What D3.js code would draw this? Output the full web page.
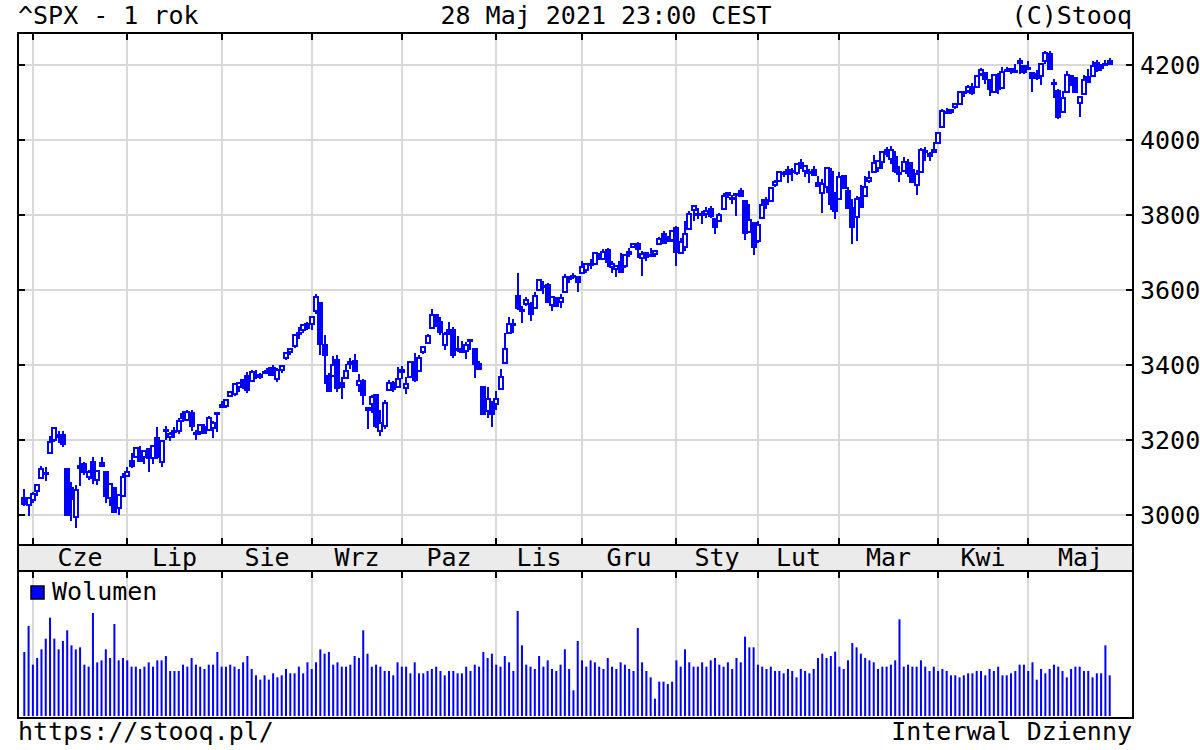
<!DOCTYPE html>
<html>
<head>
<meta charset="utf-8" />
<script src="https://cdn.jsdelivr.net/npm/d3@7"></script>
<style>
  body { margin: 0; background: #fff; }
  svg { display: block; }
  text { font-family: "DejaVu Sans Mono", monospace; font-size: 25px; fill: #000; }
</style>
</head>
<body>
<svg width="1200" height="750"></svg>
<script>
// daily candles, 28 May 2020 .. 28 May 2021 (254 sessions)
const opens = [
  3046.6,3025.2,3038.8,3064.8,3098.9,3111.6,3163.8,3199.9,3213.3,3213.4,
  3123.5,3071.0,2993.8,3131.0,3136.1,3101.6,3140.3,3094.4,3138.7,3114.4,
  3046.6,3073.2,3018.6,3050.2,3105.9,3143.6,3155.3,3166.4,3153.1,3176.2,
  3152.5,3205.1,3141.1,3226.0,3208.4,3224.2,3224.3,3268.5,3254.9,3271.6,
  3218.6,3219.8,3234.3,3227.2,3231.8,3270.5,3288.3,3289.9,3317.4,3323.2,
  3340.1,3356.0,3370.3,3355.5,3373.0,3368.7,3380.9,3387.0,3392.5,3360.5,
  3386.0,3418.1,3436.0,3450.0,3485.1,3494.7,3509.7,3507.4,3543.8,3564.7,
  3453.6,3371.9,3369.8,3412.6,3352.7,3363.6,3407.7,3411.2,3346.9,3357.4,
  3285.6,3295.8,3320.1,3226.1,3236.7,3333.9,3350.9,3341.2,3385.9,3338.9,
  3367.3,3408.7,3384.6,3434.3,3459.7,3500.0,3534.0,3515.5,3453.7,3493.5,
  3493.7,3439.4,3439.9,3438.5,3464.9,3441.4,3403.2,3342.5,3277.2,3293.6,
  3296.2,3336.3,3406.5,3485.7,3508.3,3583.0,3543.3,3563.2,3562.7,3552.6,
  3600.2,3610.3,3612.1,3559.4,3579.3,3566.8,3594.5,3635.5,3638.6,3634.2,
  3645.9,3653.8,3668.3,3670.9,3694.7,3683.1,3706.0,3659.1,3656.1,3675.3,
  3666.4,3696.3,3713.7,3722.4,3684.3,3698.1,3693.4,3694.0,3723.0,3750.0,
  3736.2,3733.3,3764.6,3698.0,3712.2,3764.7,3815.1,3803.1,3801.6,3802.2,
  3815.0,3788.7,3781.9,3816.2,3857.5,3844.2,3851.7,3863.0,3836.8,3755.8,
  3778.1,3731.2,3791.8,3840.3,3836.7,3878.3,3892.6,3910.5,3920.8,3916.4,
  3911.7,3939.6,3918.5,3915.9,3921.2,3885.6,3857.1,3873.7,3915.8,3839.7,
  3842.5,3903.6,3864.0,3818.5,3793.6,3844.4,3851.9,3892.0,3915.5,3924.5,
  3943.0,3973.6,3949.6,3953.5,3913.1,3916.5,3937.6,3919.9,3879.3,3917.1,
  3969.3,3963.3,3967.3,3992.8,4034.4,4075.6,4074.3,4090.0,4096.1,4124.7,
  4130.1,4141.6,4139.8,4174.1,4179.8,4159.2,4128.4,4170.5,4138.8,4185.0,
  4188.3,4185.1,4206.1,4198.1,4192.0,4179.0,4177.1,4170.0,4210.3,4228.3,
  4150.3,4131.6,4075.0,4129.6,4169.9,4165.9,4098.5,4122.0,4168.6,4170.2,
  4205.9,4191.6,4201.9,4210.8
];
const highs = [
  3068.7,3049.2,3062.2,3081.1,3130.9,3128.9,3211.7,3233.1,3222.7,3223.3,
  3123.5,3088.4,3079.8,3153.5,3141.2,3120.0,3155.5,3120.9,3154.9,3115.0,
  3086.3,3073.7,3053.9,3111.5,3128.4,3165.8,3182.6,3184.2,3171.8,3179.8,
  3186.8,3235.3,3200.9,3238.3,3220.4,3233.5,3258.6,3277.3,3279.3,3280.0,
  3227.3,3241.4,3243.7,3264.7,3250.9,3272.2,3302.7,3306.8,3330.8,3351.0,
  3352.5,3363.3,3381.0,3387.9,3387.2,3378.5,3387.6,3395.1,3399.5,3390.8,
  3400.0,3432.1,3444.2,3481.1,3501.4,3509.2,3514.8,3528.0,3588.1,3564.9,
  3479.2,3380.0,3424.8,3425.6,3369.0,3402.9,3419.5,3428.9,3375.2,3362.3,
  3285.6,3320.3,3323.4,3278.7,3306.9,3360.7,3357.9,3393.6,3397.2,3369.1,
  3409.6,3431.6,3426.3,3447.3,3482.3,3549.9,3534.0,3527.9,3489.1,3515.8,
  3502.4,3476.9,3464.9,3460.5,3466.5,3441.4,3409.5,3342.5,3341.1,3304.9,
  3330.1,3389.5,3486.3,3529.1,3521.6,3646.0,3557.2,3581.2,3569.0,3593.7,
  3628.5,3623.1,3619.1,3585.2,3581.2,3589.8,3642.3,3635.5,3644.3,3634.2,
  3678.5,3671.0,3682.7,3699.2,3697.4,3708.5,3712.4,3678.5,3665.9,3697.6,
  3695.3,3711.3,3725.1,3726.7,3702.9,3698.3,3711.2,3703.8,3740.5,3756.1,
  3744.6,3760.2,3770.0,3737.8,3783.0,3811.6,3826.7,3817.9,3810.8,3821.0,
  3823.6,3788.7,3804.5,3859.8,3861.5,3852.3,3859.2,3870.9,3836.8,3830.5,
  3778.1,3784.3,3843.1,3847.5,3872.4,3894.6,3915.8,3918.4,3931.5,3926.0,
  3937.2,3950.4,3933.6,3922.0,3930.4,3902.9,3896.0,3928.7,3925.0,3861.1,
  3914.5,3906.4,3874.5,3843.7,3851.7,3881.1,3903.8,3917.4,3960.3,3945.0,
  3970.1,3981.0,3983.9,3969.6,3930.1,3955.3,3949.1,3942.1,3919.5,3978.2,
  3981.8,3968.0,3994.4,4020.6,4083.4,4086.2,4083.1,4098.2,4129.5,4131.8,
  4148.0,4151.7,4173.5,4191.3,4180.8,4159.2,4175.0,4179.6,4194.2,4194.2,
  4193.3,4201.5,4218.8,4198.1,4209.4,4179.0,4187.7,4202.0,4238.0,4236.4,
  4162.0,4134.7,4131.6,4183.1,4171.9,4169.1,4116.9,4172.8,4188.7,4209.5,
  4213.4,4202.6,4213.4,4218.4
];
const lows = [
  3023.4,2998.6,3031.5,3051.6,3098.9,3090.4,3163.8,3196.0,3193.1,3181.5,
  2999.5,2984.5,2965.7,3076.1,3108.0,3093.5,3083.1,3079.4,3127.1,3032.1,
  3024.0,3004.6,2999.7,3047.8,3101.5,3124.5,3155.3,3142.9,3136.5,3115.7,
  3136.2,3149.4,3127.7,3200.8,3198.6,3205.7,3215.2,3247.8,3253.1,3222.7,
  3200.1,3214.3,3216.2,3227.2,3204.1,3220.3,3284.5,3286.4,3317.4,3318.1,
  3328.7,3335.4,3326.4,3355.5,3363.4,3361.6,3379.2,3370.2,3369.7,3354.7,
  3379.3,3413.1,3425.8,3444.2,3468.4,3484.3,3493.3,3494.6,3535.2,3427.4,
  3349.6,3329.3,3366.8,3329.3,3310.5,3363.6,3389.3,3384.5,3328.8,3292.4,
  3229.1,3271.0,3232.6,3209.5,3228.4,3332.9,3327.5,3340.5,3361.4,3323.7,
  3367.3,3354.5,3384.6,3428.2,3458.1,3499.6,3500.9,3480.6,3441.0,3482.9,
  3419.9,3435.7,3433.1,3415.3,3440.4,3364.9,3388.7,3268.9,3259.8,3233.9,
  3279.7,3336.3,3405.2,3485.7,3484.3,3547.5,3511.9,3557.0,3518.6,3552.6,
  3600.2,3588.7,3567.3,3543.8,3556.9,3552.8,3594.5,3617.8,3629.3,3594.4,
  3645.9,3644.8,3657.2,3670.9,3678.9,3678.8,3660.5,3645.2,3633.4,3645.8,
  3659.6,3688.6,3710.9,3685.8,3636.5,3676.2,3689.3,3689.3,3723.0,3723.3,
  3730.2,3726.9,3662.7,3695.1,3705.3,3764.7,3783.6,3789.0,3776.5,3791.5,
  3792.9,3749.6,3780.4,3816.2,3845.1,3830.4,3797.2,3847.8,3732.5,3755.8,
  3694.1,3725.6,3791.8,3816.7,3836.7,3874.9,3892.6,3902.6,3884.9,3890.4,
  3905.8,3923.9,3900.4,3885.0,3903.1,3874.7,3805.6,3859.6,3814.0,3789.5,
  3842.5,3868.6,3818.9,3723.3,3730.2,3819.3,3851.9,3885.7,3915.5,3915.2,
  3923.5,3953.4,3935.7,3910.9,3886.8,3914.2,3901.6,3889.1,3853.5,3917.1,
  3943.3,3944.4,3967.0,3992.8,4034.4,4068.1,4068.3,4082.5,4095.5,4114.8,
  4124.4,4120.9,4139.8,4170.8,4150.5,4118.4,4126.4,4123.7,4138.8,4182.4,
  4176.2,4181.8,4176.8,4174.9,4188.0,4128.6,4160.9,4147.0,4201.6,4188.1,
  4111.5,4056.9,4075.0,4129.6,4142.7,4126.0,4061.4,4122.0,4151.7,4170.2,
  4182.5,4184.1,4197.8,4203.6
];
const closes = [
  3029.7,3044.3,3055.7,3080.8,3122.9,3112.4,3193.9,3232.4,3207.2,3190.1,
  3002.1,3041.3,3066.6,3124.7,3113.5,3115.3,3097.7,3117.9,3131.3,3050.3,
  3083.8,3009.1,3053.2,3100.3,3115.9,3130.0,3179.7,3145.3,3169.9,3152.1,
  3185.0,3155.2,3197.5,3226.6,3215.6,3224.7,3251.8,3257.3,3276.0,3235.7,
  3215.6,3239.4,3218.4,3258.4,3246.2,3271.1,3294.6,3306.5,3327.8,3349.2,
  3351.3,3360.5,3333.7,3380.4,3373.4,3372.9,3382.0,3389.8,3374.9,3385.5,
  3397.2,3431.3,3443.6,3478.7,3484.6,3508.0,3500.3,3526.7,3580.8,3455.1,
  3427.0,3331.8,3399.0,3339.2,3341.0,3383.5,3401.2,3385.5,3357.0,3319.5,
  3281.1,3315.6,3236.9,3246.6,3298.5,3351.6,3335.5,3363.0,3380.8,3348.4,
  3408.6,3361.0,3419.4,3446.8,3477.1,3534.2,3511.9,3488.7,3483.3,3483.8,
  3426.9,3443.1,3435.6,3453.5,3465.4,3401.0,3390.7,3271.0,3310.1,3270.0,
  3310.2,3369.2,3443.4,3510.5,3509.4,3550.5,3545.5,3572.7,3537.0,3585.2,
  3626.9,3609.5,3567.8,3581.9,3557.5,3577.6,3635.4,3629.7,3638.4,3621.6,
  3662.5,3669.0,3666.7,3699.1,3692.0,3702.3,3672.8,3668.1,3663.5,3647.5,
  3694.6,3701.2,3722.5,3709.4,3694.9,3687.3,3690.0,3703.1,3735.4,3727.0,
  3732.0,3756.1,3700.7,3726.9,3748.1,3803.8,3824.7,3799.6,3801.2,3809.8,
  3795.5,3768.3,3798.9,3851.9,3853.1,3841.5,3855.4,3849.6,3750.8,3787.4,
  3714.2,3773.9,3826.3,3830.2,3871.7,3886.8,3915.6,3911.2,3909.9,3916.4,
  3934.8,3932.6,3931.3,3914.0,3906.7,3876.5,3881.4,3925.4,3829.3,3811.2,
  3901.8,3870.3,3819.7,3768.5,3841.9,3821.4,3875.4,3898.8,3939.3,3943.3,
  3968.9,3962.7,3974.1,3915.5,3913.1,3940.6,3910.5,3889.1,3909.5,3974.5,
  3971.1,3958.6,3972.9,4019.9,4077.9,4073.9,4080.0,4097.2,4128.8,4128.0,
  4141.6,4124.7,4170.4,4185.5,4163.3,4134.9,4173.4,4135.0,4180.2,4187.6,
  4186.7,4183.2,4211.5,4181.2,4192.7,4164.7,4167.6,4201.6,4232.6,4188.4,
  4152.1,4063.0,4112.5,4173.9,4163.3,4127.8,4115.7,4159.1,4155.9,4197.1,
  4188.1,4196.0,4200.9,4204.1
];
// volume, millions
const volumes = [
  3840,5400,3080,3480,4000,4640,5900,4640,4000,4500,
  5140,4240,4000,4120,3080,2960,6180,3220,3340,4000,
  3480,5520,3340,3480,3340,2960,2960,2820,2960,3220,
  2960,3340,3340,3600,2700,2700,2700,3080,2960,3480,
  3080,2960,2820,3080,3080,3840,2960,2960,3080,2960,
  2820,3220,3600,2820,2440,2180,2440,2180,2560,2320,
  2440,2820,2560,2560,2960,2560,3220,2820,3220,4000,
  3740,3840,3080,3220,2960,2960,3080,3600,3480,5140,
  3740,2960,3080,2960,2700,2700,2440,3220,2960,2960,
  2560,3220,2560,2560,2700,2820,2960,2700,2440,2700,
  2700,2560,2560,2960,2700,3080,2960,3840,3480,3740,
  3080,2960,3600,3220,2700,6300,4240,3080,2960,2820,
  3600,2960,3340,2820,2700,3080,4000,2820,1540,4500,
  3340,2960,3340,3220,2960,2820,3480,2960,2820,3220,
  3080,2820,2700,5280,3220,2700,2320,1040,2060,2060,
  1920,2060,3340,2960,4000,3220,2960,2960,3220,2960,
  3340,3480,3080,2960,3220,2820,3480,3220,4760,4120,
  4120,3080,2960,2820,2960,2700,2700,2560,2820,2700,
  2320,2820,2700,2560,2820,3480,3740,3480,3600,3860,
  2960,2820,3340,4380,4120,3740,3480,3340,3220,2820,
  2960,2960,3080,3340,5800,2960,3080,2960,2960,3340,
  2960,2700,2960,2700,2820,2700,2440,2440,2320,2440,
  2560,2560,2700,2700,2440,2820,2700,2960,2440,2440,
  2560,2700,3080,3080,2700,3220,2180,2820,2560,2820,
  3080,2960,2700,2320,2820,2960,2960,2700,2700,2320,
  2560,2560,4240,2440
];
const months = ["Cze","Lip","Sie","Wrz","Paz","Lis","Gru","Sty","Lut","Mar","Kwi","Maj"];
const monthStart = [2,24,46,67,88,110,130,152,171,190,213,234]; // first session of each month
const priceTicks = [3000,3200,3400,3600,3800,4000,4200];

const L = 18, R = 1133, T = 33, stripTop = 545, stripBot = 571, volBot = 718;
const blue = "#0000ff", grid = "#d9d9d9";

const svg = d3.select("svg");

const x = d3.scaleLinear().domain([0, closes.length - 1]).range([24.3, 1109.7]);
const y = d3.scaleLinear().domain([3000, 4200]).range([515, 65]);
const yv = d3.scaleLinear().domain([0, 8640]).range([716, 572]);

// grid
const gx = monthStart.map(i => Math.round(x(i)));
svg.append("g").selectAll("line").data(priceTicks).join("line")
  .attr("x1", L).attr("x2", R).attr("y1", d => y(d)).attr("y2", d => y(d))
  .attr("stroke", grid).attr("stroke-width", 2);
svg.append("g").selectAll("line").data(gx).join("line")
  .attr("x1", d => d).attr("x2", d => d).attr("y1", T).attr("y2", stripTop)
  .attr("stroke", grid).attr("stroke-width", 2);
svg.append("g").selectAll("line").data(gx).join("line")
  .attr("x1", d => d).attr("x2", d => d).attr("y1", stripBot).attr("y2", volBot)
  .attr("stroke", grid).attr("stroke-width", 2);

// candles
const idx = d3.range(closes.length);
const candles = svg.append("g").attr("shape-rendering", "crispEdges");
candles.selectAll("line").data(idx).join("line")
  .attr("x1", i => Math.round(x(i))).attr("x2", i => Math.round(x(i)))
  .attr("y1", i => y(highs[i])).attr("y2", i => y(lows[i]))
  .attr("stroke", blue).attr("stroke-width", 2);
candles.selectAll("rect").data(idx).join("rect")
  .attr("x", i => Math.round(x(i)) - 2).attr("width", 4)
  .attr("y", i => Math.round(y(Math.max(opens[i], closes[i]))))
  .attr("height", i => Math.max(1, Math.round(Math.abs(y(opens[i]) - y(closes[i])))))
  .attr("fill", i => closes[i] >= opens[i] ? "#fff" : blue)
  .attr("stroke", blue).attr("stroke-width", 2);

// volume bars
svg.append("g").selectAll("rect").data(idx).join("rect")
  .attr("x", i => x(i) - 1).attr("width", 2)
  .attr("y", i => yv(volumes[i])).attr("height", i => yv(0) - yv(volumes[i]))
  .attr("fill", blue);

// month strip
svg.append("rect").attr("x", L).attr("y", stripTop).attr("width", R - L).attr("height", stripBot - stripTop)
  .attr("fill", "#ebebeb");
const labelX = gx.map((g, k) => (g + (k < gx.length - 1 ? gx[k + 1] : R)) / 2);
svg.append("g").selectAll("text").data(months).join("text")
  .attr("x", (d, k) => labelX[k]).attr("y", 566).attr("text-anchor", "middle").text(d => d);

// frames
svg.append("rect").attr("x", L).attr("y", T).attr("width", R - L).attr("height", stripBot - T)
  .attr("fill", "none").attr("stroke", "#000").attr("stroke-width", 2);
svg.append("line").attr("x1", L).attr("x2", R).attr("y1", stripTop).attr("y2", stripTop)
  .attr("stroke", "#000").attr("stroke-width", 2);
svg.append("rect").attr("x", L).attr("y", stripBot).attr("width", R - L).attr("height", volBot - stripBot)
  .attr("fill", "none").attr("stroke", "#000").attr("stroke-width", 2);

// ticks
const ticks = svg.append("g").attr("stroke", "#000").attr("stroke-width", 2);
gx.forEach(g => {
  ticks.append("line").attr("x1", g).attr("x2", g).attr("y1", T).attr("y2", T + 7);
  ticks.append("line").attr("x1", g).attr("x2", g).attr("y1", stripTop - 7).attr("y2", stripTop);
  ticks.append("line").attr("x1", g).attr("x2", g).attr("y1", stripBot).attr("y2", stripBot + 7);
});
priceTicks.forEach(v => {
  ticks.append("line").attr("x1", L).attr("x2", L + 7).attr("y1", y(v)).attr("y2", y(v));
  ticks.append("line").attr("x1", R - 7).attr("x2", R).attr("y1", y(v)).attr("y2", y(v));
});

// price axis labels
const yAxis = d3.axisRight(y).tickValues(priceTicks).tickSize(0).tickPadding(7).tickFormat(d3.format("d"));
svg.append("g").attr("transform", `translate(${R},0)`).call(yAxis).call(g => g.select(".domain").remove());

// legend
svg.append("rect").attr("x", 31).attr("y", 586).attr("width", 13).attr("height", 13)
  .attr("fill", blue).attr("stroke", "#000").attr("stroke-width", 1.5);
svg.append("text").attr("x", 52).attr("y", 600).text("Wolumen");

// header / footer
svg.append("text").attr("x", 18).attr("y", 24).text("^SPX - 1 rok");
svg.append("text").attr("x", 606).attr("y", 24).attr("text-anchor", "middle").text("28 Maj 2021 23:00 CEST");
svg.append("text").attr("x", 1132).attr("y", 24).attr("text-anchor", "end").text("(C)Stooq");
svg.append("text").attr("x", 18).attr("y", 740).text("https://stooq.pl/");
svg.append("text").attr("x", 1132).attr("y", 740).attr("text-anchor", "end").text("Interwal Dzienny");
</script>
</body>
</html>
